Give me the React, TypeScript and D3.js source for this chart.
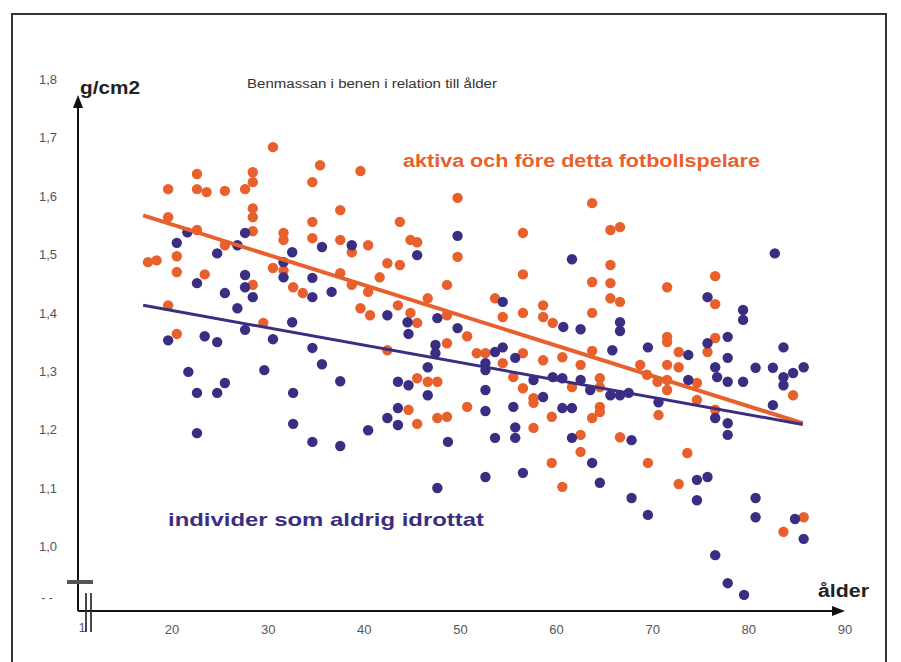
import React from "react";
import * as d3 from "d3";

// Ages (år) and bone density (g/cm2)
const fotbollAges: number[] = [
  30.5, 35.4, 39.6, 34.6, 22.6, 28.4, 28.4, 19.6, 22.6, 23.6, 25.5, 27.6, 28.4, 28.4, 37.5, 19.6,
  22.6, 28.4, 34.6, 34.6, 31.6, 31.6, 37.5, 38.7, 40.4, 42.4, 25.5, 17.5, 18.4, 20.5, 20.5, 23.4,
  30.5, 31.6, 37.5, 38.7, 41.6, 40.4, 28.4, 32.6, 33.6, 39.6, 40.6, 19.6, 29.5,
  49.7, 43.7, 44.8, 45.5, 49.7, 43.7, 56.5, 56.5, 63.7, 65.6, 66.6, 65.6, 63.7, 65.6, 65.6, 66.6,
  48.6, 43.5, 44.8, 45.5, 46.6, 48.6, 53.6, 54.4, 56.5, 58.6, 58.6, 59.6, 63.7,
  71.5, 76.5, 76.5, 71.5, 71.5, 72.7, 76.5, 75.7, 68.7, 71.5, 72.7, 69.4, 70.5, 71.5, 71.5, 74.6,
  74.6, 70.6, 76.5, 84.6,
  66.6, 69.5, 73.6, 72.7, 85.7, 83.6,
  20.5, 42.4,
  48.6, 50.7, 51.7, 52.6, 56.5, 58.6, 60.6, 63.7, 62.5, 54.4, 55.5, 56.5, 57.6, 57.6, 61.6, 64.5,
  64.5, 45.5, 46.6, 47.6, 44.6, 45.5, 47.6, 48.6, 50.7, 59.5, 57.6, 63.7, 64.5, 64.5, 62.5, 62.5,
  59.5, 60.6,
];
const fotbollValues: number[] = [
  1.685, 1.654, 1.644, 1.625, 1.639, 1.642, 1.625, 1.613, 1.613, 1.608, 1.61, 1.613, 1.58, 1.565, 1.577, 1.565,
  1.543, 1.541, 1.557, 1.529, 1.538, 1.526, 1.526, 1.505, 1.517, 1.486, 1.517, 1.488, 1.491, 1.498, 1.471, 1.467,
  1.478, 1.474, 1.469, 1.449, 1.462, 1.437, 1.449, 1.445, 1.435, 1.409, 1.397, 1.414, 1.384,
  1.598, 1.557, 1.526, 1.522, 1.497, 1.483, 1.538, 1.467, 1.589, 1.543, 1.548, 1.483, 1.454, 1.452, 1.426, 1.42,
  1.449, 1.414, 1.401, 1.384, 1.426, 1.397, 1.426, 1.394, 1.401, 1.414, 1.394, 1.384, 1.401,
  1.445, 1.464, 1.416, 1.36, 1.351, 1.334, 1.358, 1.334, 1.312, 1.312, 1.308, 1.295, 1.283, 1.286, 1.269, 1.281,
  1.252, 1.226, 1.235, 1.26,
  1.188, 1.144, 1.161, 1.108, 1.051, 1.026,
  1.365, 1.337,
  1.349, 1.361, 1.332, 1.332, 1.332, 1.32, 1.325, 1.336, 1.312, 1.315, 1.291, 1.272, 1.255, 1.247, 1.274, 1.289,
  1.274, 1.289, 1.283, 1.283, 1.235, 1.211, 1.221, 1.223, 1.24, 1.223, 1.204, 1.221, 1.231, 1.24, 1.192, 1.163,
  1.144, 1.103,
];

const aldrigAges: number[] = [
  21.6, 20.5, 24.7, 26.8, 27.6, 32.5, 35.6, 38.7, 22.6, 25.5, 27.6, 27.6, 28.4, 26.8, 31.6, 34.6,
  34.6, 36.6, 42.4, 32.5, 31.6,
  49.7, 45.5, 61.6, 44.5, 47.6, 54.4, 49.7, 66.6, 66.6, 60.7, 62.5,
  82.7, 75.7, 79.4, 79.4, 77.8, 75.7, 73.7, 65.8, 69.5, 77.8, 76.5, 76.7, 77.8, 79.4, 80.7, 83.6,
  82.5, 83.6, 83.6, 84.6, 85.7, 73.7, 70.6, 82.5, 76.5, 77.8,
  77.8, 67.8, 64.5, 67.8, 69.5, 74.6, 75.7, 74.6, 80.7, 80.7, 84.8, 85.7, 76.5, 77.8, 79.5,
  19.6, 23.4, 24.7, 27.6, 30.5, 34.6, 35.6, 37.5, 21.7, 22.6, 24.7, 25.5, 29.6, 32.6, 32.6, 34.6,
  37.5, 40.4, 42.4, 22.6,
  44.6, 47.4, 47.4, 46.6, 52.6, 52.6, 54.4, 53.6, 55.7, 43.5, 44.6, 46.6, 52.6, 52.6, 55.5, 55.7,
  55.7, 57.6, 58.6, 59.6, 60.6, 60.6, 61.6, 62.5, 63.5, 65.6, 66.6, 67.5, 43.5, 43.5, 48.7, 53.6,
  61.6, 63.7, 56.5, 52.6, 47.6,
];
const aldrigValues: number[] = [
  1.539, 1.521, 1.503, 1.517, 1.538, 1.505, 1.514, 1.517, 1.452, 1.435, 1.466, 1.445, 1.428, 1.409, 1.462, 1.461,
  1.428, 1.437, 1.397, 1.385, 1.488,
  1.533, 1.5, 1.493, 1.385, 1.392, 1.42, 1.375, 1.385, 1.37, 1.377, 1.373,
  1.503, 1.428, 1.406, 1.389, 1.36, 1.349, 1.329, 1.337, 1.342, 1.324, 1.308, 1.291, 1.283, 1.283, 1.307, 1.342,
  1.307, 1.291, 1.277, 1.298, 1.308, 1.286, 1.248, 1.243, 1.221, 1.212,
  1.192, 1.183, 1.11, 1.084, 1.055, 1.115, 1.12, 1.08, 1.084, 1.051, 1.048, 1.014, 0.986, 0.938, 0.918,
  1.354, 1.361, 1.351, 1.372, 1.356, 1.341, 1.313, 1.284, 1.3, 1.264, 1.264, 1.281, 1.303, 1.264, 1.211, 1.18,
  1.173, 1.2, 1.221, 1.195,
  1.365, 1.346, 1.332, 1.308, 1.315, 1.303, 1.342, 1.334, 1.324, 1.283, 1.277, 1.26, 1.269, 1.233, 1.24, 1.205,
  1.187, 1.286, 1.257, 1.291, 1.289, 1.238, 1.238, 1.286, 1.269, 1.26, 1.26, 1.264, 1.209, 1.238, 1.18, 1.187,
  1.187, 1.144, 1.127, 1.12, 1.101,
];

// Trend lines (start / end)
const fotbollTrend: [number, number][] = [[17, 1.568], [85.6, 1.212]];
const aldrigTrend: [number, number][] = [[17, 1.414], [85.6, 1.21]];

const xTicks: number[] = [20, 30, 40, 50, 60, 70, 80, 90];
const yTicks: number[] = [1.0, 1.1, 1.2, 1.3, 1.4, 1.5, 1.6, 1.7, 1.8];

const ORANGE = "#e8602c";
const BLUE = "#3a2e82";
const NARROW = "'Liberation Sans Narrow', 'Liberation Sans', Arial, sans-serif";
const SANS = "'Liberation Sans', Arial, sans-serif";

export default function App() {
  const x = d3.scaleLinear().domain([20, 90]).range([172, 845]);
  const y = d3.scaleLinear().domain([1.0, 1.8]).range([547, 80]);
  const line = d3
    .line<[number, number]>()
    .x((d) => x(d[0]))
    .y((d) => y(d[1]));
  const fmt = (v: number) => v.toFixed(1).replace(".", ",");
  const axisX = 78;
  const axisY = 611;

  return (
    <svg
      width={901}
      height={662}
      style={{ position: "absolute", left: 0, top: 0, background: "#fff" }}
    >
      <rect x={0} y={0} width={901} height={662} fill="#fff" />
      {/* frame */}
      <path d="M12,662 L12,14 L886,14 L886,662" fill="none" stroke="#333" strokeWidth={2} />

      {/* title */}
      <text
        x={247}
        y={88}
        fontFamily={SANS}
        fontSize={12}
        fill="#333"
        textLength={250}
        lengthAdjust="spacingAndGlyphs"
      >
        Benmassan i benen i relation till ålder
      </text>

      {/* y tick labels */}
      {yTicks.map((t) => (
        <text
          key={t}
          x={48}
          y={y(t) + 4}
          textAnchor="middle"
          fontFamily={NARROW}
          fontSize={13}
          fill="#555"
        >
          {fmt(t)}
        </text>
      ))}
      <text x={47} y={602} textAnchor="middle" fontFamily={NARROW} fontSize={12} fill="#555">
        - -
      </text>

      {/* x tick labels */}
      {xTicks.map((t) => (
        <text
          key={t}
          x={x(t)}
          y={634}
          textAnchor="middle"
          fontFamily={NARROW}
          fontSize={13}
          fill="#555"
        >
          {t}
        </text>
      ))}
      <text x={82} y={632} textAnchor="middle" fontFamily={NARROW} fontSize={12} fill="#555">
        1
      </text>

      {/* points */}
      {fotbollAges.map((a, i) => (
        <circle key={"o" + i} cx={x(a)} cy={y(fotbollValues[i])} r={5.2} fill={ORANGE} />
      ))}
      {aldrigAges.map((a, i) => (
        <circle key={"b" + i} cx={x(a)} cy={y(aldrigValues[i])} r={5.2} fill={BLUE} />
      ))}

      {/* trend lines */}
      <path d={line(fotbollTrend) || ""} stroke={ORANGE} strokeWidth={4} fill="none" />
      <path d={line(aldrigTrend) || ""} stroke={BLUE} strokeWidth={3} fill="none" />

      {/* axes */}
      <line x1={axisX} y1={axisY} x2={axisX} y2={104} stroke="#111" strokeWidth={2} />
      <path d={`M${axisX},95 L${axisX - 5},108 L${axisX + 5},108 Z`} fill="#111" />
      <line x1={axisX} y1={axisY} x2={834} y2={axisY} stroke="#111" strokeWidth={2} />
      <path d={`M845,${axisY} L832,${axisY - 5} L832,${axisY + 5} Z`} fill="#111" />

      {/* axis breaks */}
      <rect x={67} y={580} width={26} height={4} fill="#555" />
      <line x1={86} y1={593} x2={86} y2={632} stroke="#333" strokeWidth={1.8} />
      <line x1={91} y1={593} x2={91} y2={632} stroke="#333" strokeWidth={1.8} />

      {/* axis titles */}
      <text
        x={80}
        y={94}
        fontFamily={SANS}
        fontWeight="bold"
        fontSize={18}
        fill="#222"
        textLength={60}
        lengthAdjust="spacingAndGlyphs"
      >
        g/cm2
      </text>
      <text
        x={818}
        y={597}
        fontFamily={SANS}
        fontWeight="bold"
        fontSize={18}
        fill="#222"
        textLength={51}
        lengthAdjust="spacingAndGlyphs"
      >
        ålder
      </text>

      {/* series labels */}
      <text
        x={403}
        y={167}
        fontFamily={SANS}
        fontWeight="bold"
        fontSize={18}
        fill={ORANGE}
        textLength={357}
        lengthAdjust="spacingAndGlyphs"
      >
        aktiva och före detta fotbollspelare
      </text>
      <text
        x={168}
        y={526}
        fontFamily={SANS}
        fontWeight="bold"
        fontSize={19}
        fill={BLUE}
        textLength={316}
        lengthAdjust="spacingAndGlyphs"
      >
        individer som aldrig idrottat
      </text>
    </svg>
  );
}
